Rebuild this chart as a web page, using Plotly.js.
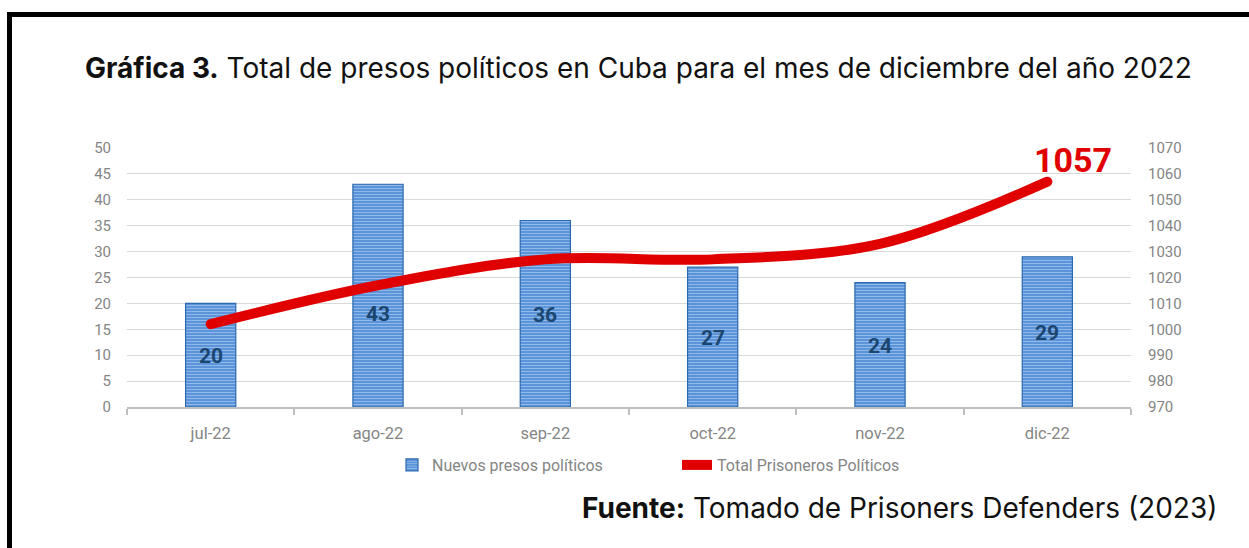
<!DOCTYPE html>
<html>
<head>
<meta charset="utf-8">
<script src="https://cdn.plot.ly/plotly-3.0.1.min.js"></script>
<style>
  html, body { margin: 0; padding: 0; background: #fff; }
  #chart { width: 1249px; height: 548px; }
  #chart .scatterlayer .js-line { stroke-linecap: round !important; stroke-linejoin: round !important; }
</style>
</head>
<body>
<div id="chart"></div>
<script>
// ---- data ----
const months = ["jul-22", "ago-22", "sep-22", "oct-22", "nov-22", "dic-22"];
const newPrisoners = [20, 43, 36, 27, 24, 29];
const totalPrisoners = [1002, 1017, 1027, 1027, 1033, 1057];
const barSeriesName = "Nuevos presos políticos";
const lineSeriesName = "Total Prisoneros Políticos";
const titleBold = "Gráfica 3.";
const titleRest = " Total de presos políticos en Cuba para el mes de diciembre del año 2022";
const sourceBold = "Fuente:";
const sourceRest = " Tomado de Prisoners Defenders (2023)";

// ---- layout geometry ----
const W = 1249, H = 548;
const M = { l: 127, r: 118, t: 148, b: 141 };
const plotW = W - M.l - M.r, plotH = H - M.t - M.b;
const px2x = (px) => (px - M.l) / plotW;
const px2y = (py) => (H - M.b - py) / plotH;

const tickFont = { family: "Roboto, 'DejaVu Sans', sans-serif", size: 15, color: "#858585" };

const barTrace = {
  type: "bar",
  name: barSeriesName,
  x: months,
  y: newPrisoners,
  width: 0.3,
  marker: {
    color: "#5590d6",
    line: { color: "#2d69ae", width: 1.2 },
    pattern: { shape: "-", bgcolor: "#5590d6", fgcolor: "#8fb9ea", size: 3, solidity: 0.4 }
  },
  hoverinfo: "x+y",
  yaxis: "y"
};

const lineTrace = {
  type: "scatter",
  mode: "lines",
  name: lineSeriesName,
  x: months,
  y: totalPrisoners,
  yaxis: "y2",
  line: { color: "#e00000", width: 10, shape: "spline", smoothing: 1 },
  hoverinfo: "x+y"
};

// bar value labels (centered in bar; the August label sits lower to clear the line)
const barLabels = newPrisoners.map((v, i) => ({
  x: months[i], y: v / 2, xref: "x", yref: "y",
  text: String(v), showarrow: false,
  yshift: i === 1 ? -18 : -1,
  font: { family: "Roboto, sans-serif", size: 21, color: "#1b4670", weight: 700 }
}));

const last = totalPrisoners.length - 1;
const totalLabel = {
  x: months[last], y: totalPrisoners[last], xref: "x", yref: "y2",
  text: "<b>" + totalPrisoners[last] + "</b>", showarrow: false,
  xshift: 26, yshift: 22,
  font: { family: "Roboto, sans-serif", size: 34, color: "#e00000" }
};

const sourceNote = {
  xref: "paper", yref: "paper",
  x: px2x(1219), y: px2y(508), xanchor: "right", yanchor: "middle",
  text: "<b>" + sourceBold + "</b>" + sourceRest, showarrow: false,
  font: { family: "Inter, 'Open Sans', sans-serif", size: 28, color: "#111" }
};

const frameShapes = [
  { type: "line", xref: "paper", yref: "paper", x0: px2x(9.5), x1: px2x(9.5), y0: px2y(12), y1: px2y(560),
    line: { color: "#000", width: 5 } },
  { type: "line", xref: "paper", yref: "paper", x0: px2x(7), x1: px2x(1260), y0: px2y(14.5), y1: px2y(14.5),
    line: { color: "#000", width: 5 } }
];

const layout = {
  width: W, height: H,
  margin: M,
  paper_bgcolor: "#fff", plot_bgcolor: "#fff",
  showlegend: true,
  title: {
    text: "<b>" + titleBold + "</b>" + titleRest,
    x: 85 / W, xanchor: "left", xref: "container",
    y: 1 - 68 / H, yanchor: "middle", yref: "container",
    font: { family: "Inter, 'Open Sans', sans-serif", size: 28, color: "#111" }
  },
  xaxis: {
    type: "category",
    range: [-0.5, 5.5],
    showline: true, linecolor: "#bfbfbf", linewidth: 2,
    ticks: "outside", tickson: "boundaries", ticklen: 6, tickcolor: "#bfbfbf", tickwidth: 2,
    showgrid: false, zeroline: false,
    ticklabelstandoff: 10,
    tickfont: { family: "Roboto, sans-serif", size: 16.5, color: "#858585" }
  },
  yaxis: {
    range: [0, 50], dtick: 5, tick0: 0,
    showgrid: true, gridcolor: "#d9d9d9", gridwidth: 1,
    zeroline: false, showline: false, ticks: "",
    ticklabelstandoff: 15,
    tickfont: tickFont
  },
  yaxis2: {
    range: [970, 1070], dtick: 10, tick0: 970,
    overlaying: "y", side: "right",
    showgrid: false, zeroline: false, showline: false, ticks: "",
    ticklabelstandoff: 16,
    tickfont: tickFont
  },
  legend: {
    orientation: "h",
    x: px2x(392), xanchor: "left",
    y: px2y(465), yanchor: "middle",
    entrywidth: 240, entrywidthmode: "pixels",
    font: { family: "Roboto, sans-serif", size: 16, color: "#858585" },
    bgcolor: "rgba(0,0,0,0)"
  },
  annotations: [...barLabels, totalLabel, sourceNote],
  shapes: frameShapes
};

Plotly.newPlot("chart", [barTrace, lineTrace], layout, { displayModeBar: false, staticPlot: true });
</script>
</body>
</html>
